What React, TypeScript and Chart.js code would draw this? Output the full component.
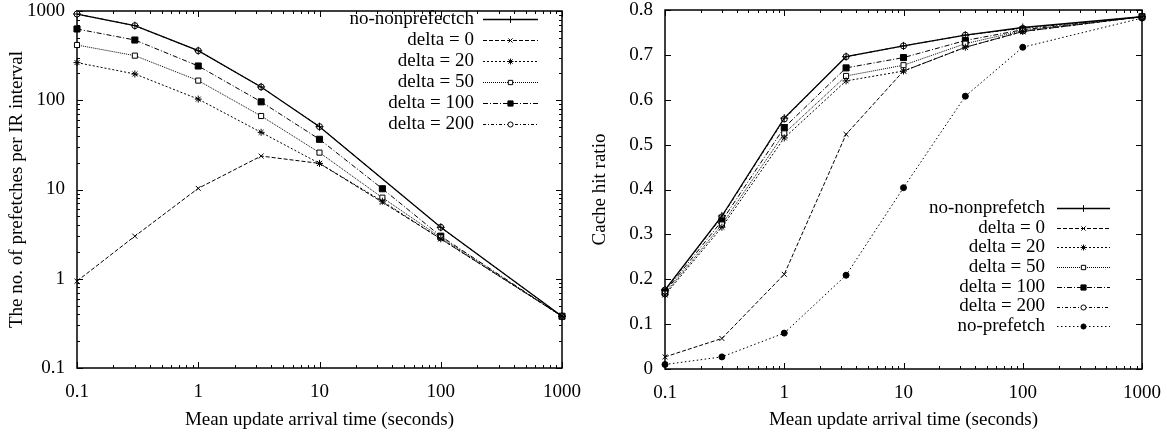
import React, { useEffect, useRef } from 'react';
import { Chart, registerables } from 'chart.js';
import { drawPoint } from 'chart.js/helpers';

Chart.register(...registerables);
Chart.defaults.color = '#000';

const FONT = '"Liberation Serif", "Times New Roman", Times, serif';
const FONT_SIZE = 19;

// ---------------- data ----------------
const xValues = [0.1, 0.3, 1, 3.3, 10, 33, 100, 1000];
const xTickValues = [0.1, 1, 10, 100, 1000];
const xTickLabels = ['0.1', '1', '10', '100', '1000'];

const prefTickValues = [0.1, 1, 10, 100, 1000];
const prefTickLabels = ['0.1', '1', '10', '100', '1000'];
const hitTickValues = [0, 0.1, 0.2, 0.3, 0.4, 0.5, 0.6, 0.7, 0.8];
const hitTickLabels = ['0', '0.1', '0.2', '0.3', '0.4', '0.5', '0.6', '0.7', '0.8'];

// Left panel: number of prefetches per IR interval
const prefNoNonprefetch = [925, 685, 359, 141, 50.6, null, 3.77, 0.38];
const prefDelta0 = [0.94, 3.0, 10.3, 23.7, 19.6, 7.2, 2.8, 0.38];
const prefDelta20 = [264, 197, 103, 43.7, 19.6, 7.4, 2.8, 0.38];
const prefDelta50 = [416, 316, 166, 66.6, 25.9, 8.1, 2.9, 0.38];
const prefDelta100 = [629, 473, 242, 96, 36.5, 10.2, 3.0, 0.38];
const prefDelta200 = [925, 685, 359, 141, 50.6, null, 3.77, 0.38];

// Right panel: cache hit ratio
const hitNoNonprefetch = [0.176, 0.341, 0.559, 0.696, 0.72, 0.744, 0.761, 0.785];
const hitDelta0 = [0.027, 0.068, 0.211, 0.523, 0.664, 0.717, 0.752, 0.785];
const hitDelta20 = [0.165, 0.316, 0.515, 0.642, 0.664, 0.717, 0.752, 0.785];
const hitDelta50 = [0.168, 0.322, 0.525, 0.653, 0.677, 0.725, 0.754, 0.785];
const hitDelta100 = [0.172, 0.33, 0.538, 0.671, 0.694, 0.732, 0.756, 0.785];
const hitDelta200 = [0.176, 0.339, 0.557, 0.696, 0.72, 0.744, 0.759, 0.785];
const hitNoPrefetch = [0.01, 0.027, 0.08, 0.209, 0.404, 0.608, 0.717, 0.782];

// ---------------- styles ----------------
type SeriesStyle = { dash: number[]; point: string; radius: number; fill: string; width: number };
const STY: Record<string, SeriesStyle> = {
  nonpre: { dash: [], point: 'cross', radius: 4, fill: '#000', width: 1.3 },
  d0: { dash: [4, 2], point: 'crossRot', radius: 3.5, fill: '#000', width: 1 },
  d20: { dash: [2, 2], point: 'star', radius: 3.5, fill: '#000', width: 1 },
  d50: { dash: [1, 1], point: 'rect', radius: 3.6, fill: '#fff', width: 1 },
  d100: { dash: [5, 2, 1, 2], point: 'rect', radius: 4.3, fill: '#000', width: 1 },
  d200: { dash: [3, 2, 1, 2], point: 'circle', radius: 3, fill: '#fff', width: 1 },
  nopre: { dash: [1.5, 2.5], point: 'circle', radius: 3, fill: '#000', width: 1 },
};

function makeDataset(label: string, values: (number | null)[], s: SeriesStyle) {
  return {
    label,
    data: xValues
      .map((x, i) => ({ x, y: values[i] }))
      .filter((p) => p.y !== null),
    borderColor: '#000',
    borderWidth: s.width,
    borderDash: s.dash,
    pointStyle: s.point,
    pointRadius: s.radius,
    pointBackgroundColor: s.fill,
    pointBorderColor: '#000',
    pointBorderWidth: 1,
    fill: false,
    tension: 0,
    clip: false,
  };
}

function logMinors(min: number, max: number) {
  const out: number[] = [];
  for (let k = Math.floor(Math.log10(min)); k < Math.log10(max); k++) {
    for (let m = 2; m <= 9; m++) {
      const v = m * Math.pow(10, k);
      if (v > min && v < max) out.push(v);
    }
  }
  return out;
}

function framePlugin(yLog: boolean, yMajors: number[], xMajors: number[]) {
  return {
    id: 'gpFrame',
    beforeDatasetsDraw(chart: any) {
      const { ctx, chartArea } = chart;
      const { left, right, top, bottom } = chartArea;
      const xs = chart.scales.x;
      const ys = chart.scales.y;
      ctx.save();
      ctx.strokeStyle = '#000';
      ctx.lineWidth = 1;
      const MAJ = 6;
      const MIN = 3;
      const seg = (x1: number, y1: number, x2: number, y2: number) => {
        ctx.beginPath();
        ctx.moveTo(x1, y1);
        ctx.lineTo(x2, y2);
        ctx.stroke();
      };
      const xTick = (v: number, len: number) => {
        const px = Math.round(xs.getPixelForValue(v)) + 0.5;
        seg(px, bottom, px, bottom - len);
        seg(px, top, px, top + len);
      };
      const yTick = (v: number, len: number) => {
        const py = Math.round(ys.getPixelForValue(v)) + 0.5;
        seg(left, py, left + len, py);
        seg(right, py, right - len, py);
      };
      xMajors.forEach((v) => xTick(v, MAJ));
      logMinors(xMajors[0], xMajors[xMajors.length - 1]).forEach((v) => xTick(v, MIN));
      yMajors.forEach((v) => yTick(v, MAJ));
      if (yLog) logMinors(yMajors[0], yMajors[yMajors.length - 1]).forEach((v) => yTick(v, MIN));
      ctx.lineWidth = 1.5;
      ctx.strokeRect(left, top, right - left, bottom - top);
      ctx.restore();
    },
  };
}

function legendPlugin(cfg: { textRight: number; lineStart: number; lineEnd: number; top: number; step: number }) {
  return {
    id: 'gpLegend',
    afterDraw(chart: any) {
      const ctx = chart.ctx;
      ctx.save();
      chart.data.datasets.forEach((ds: any, i: number) => {
        const y = cfg.top + i * cfg.step;
        ctx.font = `${FONT_SIZE}px ${FONT}`;
        ctx.textAlign = 'right';
        ctx.textBaseline = 'middle';
        ctx.fillStyle = '#000';
        ctx.fillText(ds.label, cfg.textRight, y);
        ctx.beginPath();
        ctx.setLineDash(ds.borderDash || []);
        ctx.lineWidth = ds.borderWidth;
        ctx.strokeStyle = '#000';
        ctx.moveTo(cfg.lineStart, Math.round(y) + 0.5);
        ctx.lineTo(cfg.lineEnd, Math.round(y) + 0.5);
        ctx.stroke();
        ctx.setLineDash([]);
        ctx.fillStyle = ds.pointBackgroundColor;
        ctx.strokeStyle = '#000';
        ctx.lineWidth = 1;
        drawPoint(
          ctx,
          { pointStyle: ds.pointStyle, radius: ds.pointRadius * 0.85, rotation: 0, borderWidth: 1 },
          (cfg.lineStart + cfg.lineEnd) / 2,
          Math.round(y) + 0.5
        );
      });
      ctx.restore();
    },
  };
}

const tickFont = { family: FONT, size: FONT_SIZE };

function makeOptions(p: {
  yType: 'logarithmic' | 'linear';
  yMin: number;
  yMax: number;
  yTicks: number[];
  yLabels: string[];
  yTitle: string;
  yWidth: number;
  xHeight: number;
  padding: { left: number; right: number; top: number; bottom: number };
}) {
  const findLabel = (vals: number[], labels: string[], v: number) => {
    const i = vals.findIndex((t) => Math.abs(t - v) < 1e-9 * Math.max(1, Math.abs(t)) + 1e-9);
    return i >= 0 ? labels[i] : '';
  };
  return {
    responsive: false,
    maintainAspectRatio: false,
    devicePixelRatio: 1,
    animation: false as const,
    events: [] as any[],
    layout: { padding: p.padding },
    plugins: { legend: { display: false }, tooltip: { enabled: false } },
    scales: {
      x: {
        type: 'logarithmic' as const,
        position: 'bottom' as const,
        min: 0.1,
        max: 1000,
        grid: { display: false, drawTicks: false },
        border: { display: false },
        afterBuildTicks: (scale: any) => {
          scale.ticks = xTickValues.map((v) => ({ value: v, major: true }));
        },
        afterFit: (scale: any) => {
          scale.height = p.xHeight;
          scale.paddingLeft = 0;
          scale.paddingRight = 0;
        },
        ticks: {
          font: tickFont,
          color: '#000',
          padding: 13,
          maxRotation: 0,
          autoSkip: false,
          callback: (v: any) => findLabel(xTickValues, xTickLabels, Number(v)),
        },
        title: {
          display: true,
          text: 'Mean update arrival time (seconds)',
          font: tickFont,
          color: '#000',
          padding: { top: 0, bottom: 4 },
        },
      },
      y: {
        type: p.yType,
        position: 'left' as const,
        min: p.yMin,
        max: p.yMax,
        grid: { display: false, drawTicks: false },
        border: { display: false },
        afterBuildTicks: (scale: any) => {
          scale.ticks = p.yTicks.map((v) => ({ value: v, major: true }));
        },
        afterFit: (scale: any) => {
          scale.width = p.yWidth;
          scale.paddingTop = 0;
          scale.paddingBottom = 0;
        },
        ticks: {
          font: tickFont,
          color: '#000',
          padding: 12,
          autoSkip: false,
          callback: (v: any) => findLabel(p.yTicks, p.yLabels, Number(v)),
        },
        title: {
          display: true,
          text: p.yTitle,
          font: tickFont,
          color: '#000',
          padding: { top: 6, bottom: 0 },
        },
      },
    },
  };
}

export default function App() {
  const leftRef = useRef<HTMLCanvasElement>(null);
  const rightRef = useRef<HTMLCanvasElement>(null);

  useEffect(() => {
    const leftChart = new Chart(leftRef.current as HTMLCanvasElement, {
      type: 'line',
      data: {
        datasets: [
          makeDataset('no-nonprefectch', prefNoNonprefetch, STY.nonpre),
          makeDataset('delta = 0', prefDelta0, STY.d0),
          makeDataset('delta = 20', prefDelta20, STY.d20),
          makeDataset('delta = 50', prefDelta50, STY.d50),
          makeDataset('delta = 100', prefDelta100, STY.d100),
          makeDataset('delta = 200', prefDelta200, STY.d200),
        ] as any,
      },
      options: makeOptions({
        yType: 'logarithmic',
        yMin: 0.1,
        yMax: 1000,
        yTicks: prefTickValues,
        yLabels: prefTickLabels,
        yTitle: 'The no. of prefetches per IR interval',
        yWidth: 77,
        xHeight: 67,
        padding: { left: 0, right: 21, top: 11, bottom: 0 },
      }) as any,
      plugins: [
        framePlugin(true, prefTickValues, xTickValues),
        legendPlugin({ textRight: 474, lineStart: 483, lineEnd: 538, top: 19, step: 21 }),
      ],
    });

    const rightChart = new Chart(rightRef.current as HTMLCanvasElement, {
      type: 'line',
      data: {
        datasets: [
          makeDataset('no-nonprefetch', hitNoNonprefetch, STY.nonpre),
          makeDataset('delta = 0', hitDelta0, STY.d0),
          makeDataset('delta = 20', hitDelta20, STY.d20),
          makeDataset('delta = 50', hitDelta50, STY.d50),
          makeDataset('delta = 100', hitDelta100, STY.d100),
          makeDataset('delta = 200', hitDelta200, STY.d200),
          makeDataset('no-prefetch', hitNoPrefetch, STY.nopre),
        ] as any,
      },
      options: makeOptions({
        yType: 'linear',
        yMin: 0,
        yMax: 0.8,
        yTicks: hitTickValues,
        yLabels: hitTickLabels,
        yTitle: 'Cache hit ratio',
        yWidth: 82,
        xHeight: 66,
        padding: { left: 0, right: 25, top: 10, bottom: 0 },
      }) as any,
      plugins: [
        framePlugin(false, hitTickValues, xTickValues),
        legendPlugin({ textRight: 462, lineStart: 474, lineEnd: 527, top: 208, step: 19.7 }),
      ],
    });

    return () => {
      leftChart.destroy();
      rightChart.destroy();
    };
  }, []);

  return (
    <div style={{ position: 'absolute', left: 0, top: 0, width: 1167, height: 435, background: '#fff' }}>
      <canvas
        ref={leftRef}
        width={583}
        height={435}
        style={{ position: 'absolute', left: 0, top: 0, width: 583, height: 435 }}
      />
      <canvas
        ref={rightRef}
        width={584}
        height={435}
        style={{ position: 'absolute', left: 583, top: 0, width: 584, height: 435 }}
      />
    </div>
  );
}
